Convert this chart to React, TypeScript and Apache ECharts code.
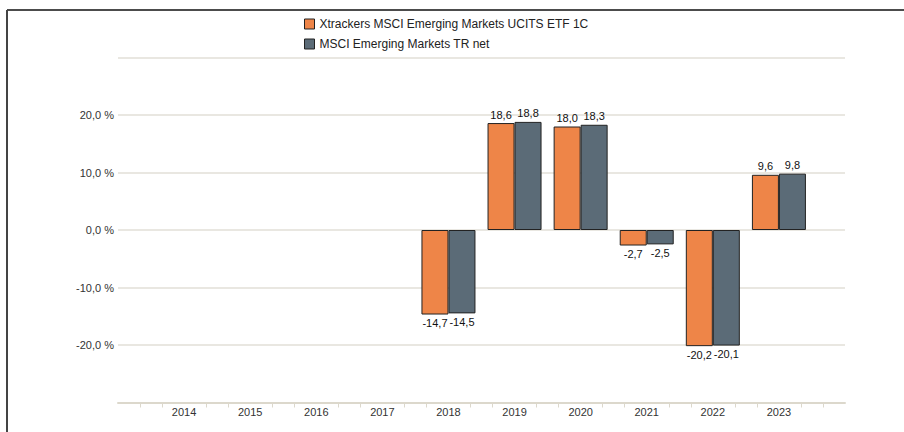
import React, { useEffect, useRef } from "react";
import * as echarts from "echarts";

const years = [2014, 2015, 2016, 2017, 2018, 2019, 2020, 2021, 2022, 2023];
const etfYears = [2018, 2019, 2020, 2021, 2022, 2023];
const etfValues = [-14.7, 18.6, 18.0, -2.7, -20.2, 9.6];
const indexValues = [-14.5, 18.8, 18.3, -2.5, -20.1, 9.8];
const seriesNames = ["Xtrackers MSCI Emerging Markets UCITS ETF 1C", "MSCI Emerging Markets TR net"];
const colors = ["#ee8548", "#5b6b77"];

const FONT = "'Liberation Sans', Arial, Helvetica, sans-serif";
const fmt = (v: number) => v.toFixed(1).replace(".", ",");

function buildData(values: number[]) {
  return values.map((v, i) => ({
    value: [etfYears[i], v],
    label: { position: v < 0 ? "bottom" : "top" },
  }));
}

export default function App() {
  const ref = useRef<HTMLDivElement>(null);
  useEffect(() => {
    if (!ref.current) return;
    const chart = echarts.init(ref.current, undefined, { renderer: "svg" });
    chart.setOption({
      animation: false,
      textStyle: { fontFamily: FONT },
      legend: {
        orient: "vertical",
        left: 299,
        top: 13,
        itemWidth: 10,
        itemHeight: 10,
        itemGap: 8,
        icon: "rect",
        textStyle: { fontFamily: FONT, fontSize: 12, color: "#222" },
        data: seriesNames.map((n, i) => ({ name: n, itemStyle: { color: colors[i], borderColor: "#222", borderWidth: 1 } })),
      },
      grid: { left: 118, right: 59, top: 57.5, bottom: 29.5, containLabel: false },
      xAxis: {
        type: "value",
        min: years[0] - 1,
        max: years[years.length - 1] + 1,
        interval: 1,
        splitLine: { show: false },
        axisLine: { show: true, onZero: false, lineStyle: { color: "#dcd8cc", width: 2, cap: "round" } },
        axisTick: { show: false },
        minorTick: { show: true, splitNumber: 3, length: 5, lineStyle: { color: "#dcd8cc", width: 1 } },
        axisLabel: {
          margin: 4,
          fontSize: 11,
          color: "#333",
          fontFamily: FONT,
          formatter: (v: number) => (years.includes(v) ? String(v) : ""),
        },
      },
      yAxis: {
        type: "value",
        min: -30,
        max: 30,
        interval: 10,
        axisLine: { show: false },
        axisTick: { show: false },
        splitLine: { show: true, lineStyle: { color: "#e2dfd7", width: 1.5 } },
        axisLabel: {
          margin: 4,
          fontSize: 11,
          color: "#333",
          fontFamily: FONT,
          formatter: (v: number) => (Math.abs(v) >= 30 ? "" : fmt(v) + " %"),
        },
      },
      graphic: [
        { type: "line", shape: { x1: 7, y1: 10, x2: 904, y2: 10 }, style: { stroke: "#111", lineWidth: 1.5 }, z: 100 },
        { type: "line", shape: { x1: 7, y1: 10, x2: 7, y2: 432 }, style: { stroke: "#444", lineWidth: 2 }, z: 100 },
      ],
      series: [etfValues, indexValues].map((vals, i) => ({
        name: seriesNames[i],
        type: "bar",
        barWidth: 27,
        barGap: "0%",
        itemStyle: { color: colors[i], borderColor: "#222", borderWidth: 1 },
        label: {
          show: true,
          distance: 3,
          fontSize: 11,
          color: "#111",
          fontFamily: FONT,
          formatter: (p: any) => fmt(p.value[1]),
        },
        data: buildData(vals),
      })),
    });
    return () => chart.dispose();
  }, []);
  return (
    <div
      ref={ref}
      style={{ position: "absolute", left: 0, top: 0, width: 904, height: 432, background: "#fff" }}
    />
  );
}
